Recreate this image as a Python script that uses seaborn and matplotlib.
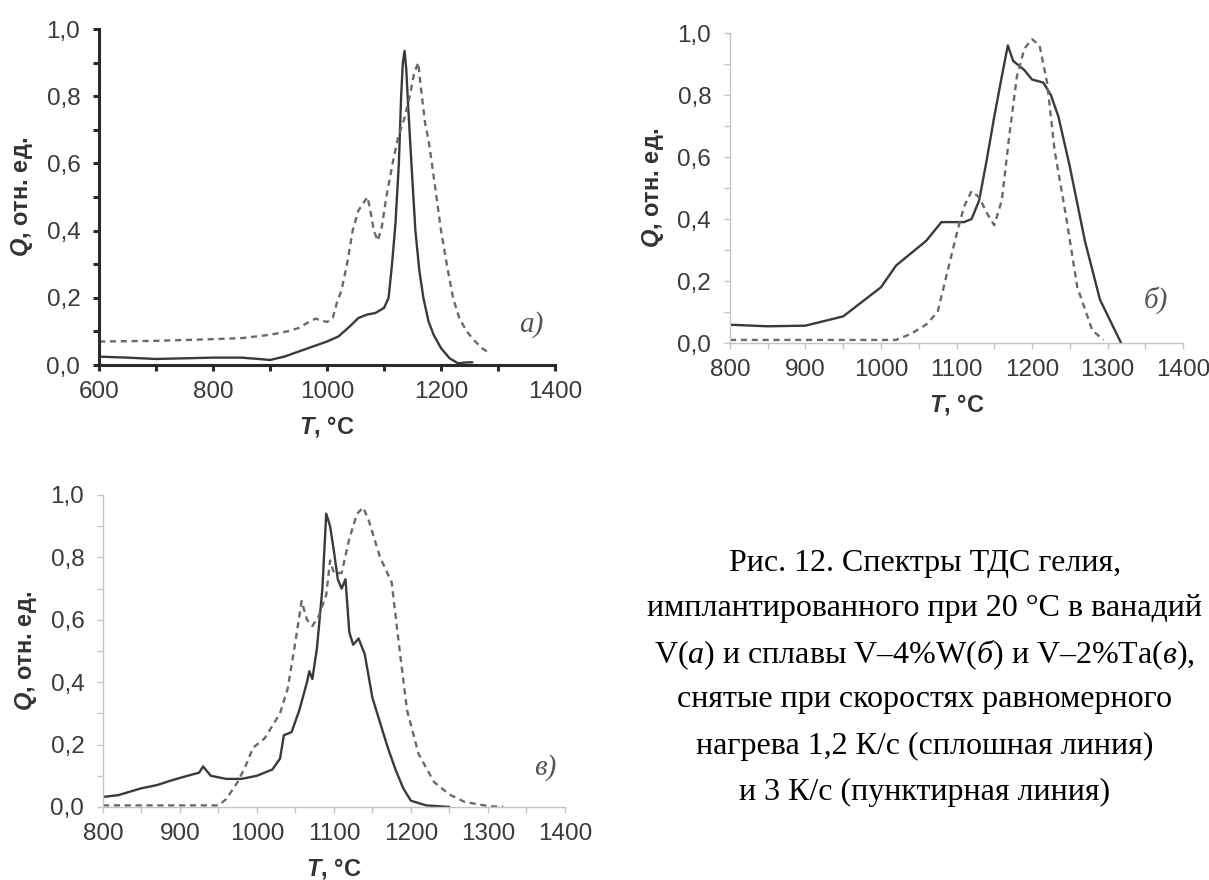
import numpy as np
import pandas as pd
import matplotlib
matplotlib.use("Agg")
import matplotlib.pyplot as plt
from matplotlib.ticker import MultipleLocator, FuncFormatter
import seaborn as sns

# ---- панель а) ванадий V ----
a_T_solid = [600, 650, 700, 750, 800, 850, 880, 900, 925, 950, 975, 1000, 1020, 1040, 1055, 1070,
             1085, 1100, 1108, 1114, 1120, 1126, 1130, 1133, 1136, 1139, 1142, 1148, 1155, 1162,
             1169, 1178, 1187, 1200, 1215, 1230, 1245, 1255]
a_Q_solid = [0.025, 0.022, 0.018, 0.02, 0.022, 0.022, 0.018, 0.015, 0.025, 0.04, 0.055, 0.07, 0.085,
             0.115, 0.14, 0.15, 0.155, 0.17, 0.2, 0.3, 0.42, 0.6, 0.8, 0.9, 0.935, 0.88, 0.78, 0.6,
             0.4, 0.28, 0.2, 0.13, 0.09, 0.05, 0.02, 0.005, 0.008, 0.008]
a_T_dash = [600, 700, 800, 850, 900, 930, 950, 970, 980, 990, 1000, 1010, 1018, 1025, 1035, 1045,
            1055, 1063, 1071, 1076, 1082, 1089, 1096, 1104, 1115, 1125, 1135, 1145, 1153, 1160,
            1165, 1172, 1178, 1184, 1192, 1200, 1210, 1221, 1232, 1245, 1260, 1272, 1285]
a_Q_dash = [0.07, 0.072, 0.077, 0.08, 0.09, 0.1, 0.11, 0.13, 0.138, 0.133, 0.128, 0.14, 0.19, 0.22,
            0.3, 0.4, 0.46, 0.48, 0.5, 0.46, 0.4, 0.37, 0.41, 0.5, 0.6, 0.68, 0.73, 0.8, 0.87, 0.9,
            0.82, 0.72, 0.67, 0.6, 0.5, 0.4, 0.3, 0.2, 0.14, 0.1, 0.07, 0.05, 0.035]

# ---- панель б) V-4%W ----
b_T_solid = [800, 850, 900, 950, 1000, 1020, 1040, 1060, 1080, 1100, 1110, 1120, 1130, 1140, 1150,
             1160, 1168, 1175, 1190, 1200, 1215, 1225, 1235, 1250, 1270, 1290, 1310, 1318]
b_Q_solid = [0.059, 0.054, 0.056, 0.086, 0.18, 0.25, 0.29, 0.33, 0.39, 0.39, 0.39, 0.40, 0.46, 0.59,
             0.73, 0.86, 0.96, 0.91, 0.88, 0.85, 0.84, 0.80, 0.73, 0.57, 0.33, 0.14, 0.04, 0.0]
b_T_dash = [800, 900, 1000, 1020, 1040, 1060, 1075, 1090, 1100, 1110, 1120, 1130, 1140, 1150, 1160,
            1170, 1180, 1190, 1200, 1210, 1220, 1230, 1245, 1260, 1280, 1295]
b_Q_dash = [0.01, 0.01, 0.01, 0.01, 0.03, 0.06, 0.1, 0.25, 0.35, 0.44, 0.49, 0.47, 0.42, 0.38, 0.46,
            0.67, 0.86, 0.95, 0.98, 0.96, 0.84, 0.62, 0.41, 0.18, 0.04, 0.01]

# ---- панель в) V-2%Ta ----
c_T_solid = [800, 820, 850, 870, 890, 910, 925, 930, 940, 960, 980, 1000, 1020, 1030, 1035, 1045,
             1055, 1065, 1068, 1072, 1078, 1085, 1090, 1095, 1100, 1105, 1110, 1115, 1120, 1125,
             1132, 1140, 1150, 1160, 1170, 1180, 1190, 1200, 1220, 1250]
c_Q_solid = [0.032, 0.038, 0.06, 0.07, 0.086, 0.1, 0.11, 0.13, 0.1, 0.09, 0.09, 0.1, 0.12, 0.155,
             0.23, 0.24, 0.31, 0.40, 0.435, 0.41, 0.51, 0.70, 0.94, 0.90, 0.82, 0.73, 0.70, 0.73,
             0.56, 0.52, 0.54, 0.49, 0.35, 0.27, 0.19, 0.12, 0.06, 0.02, 0.005, 0.0]
c_T_dash = [800, 950, 960, 975, 985, 995, 1010, 1030, 1040, 1050, 1058, 1065, 1072, 1080, 1090, 1095,
            1100, 1110, 1120, 1130, 1138, 1145, 1160, 1175, 1185, 1195, 1210, 1230, 1250, 1270,
            1300, 1320]
c_Q_dash = [0.005, 0.005, 0.025, 0.08, 0.13, 0.19, 0.22, 0.30, 0.38, 0.53, 0.66, 0.60, 0.58, 0.61,
            0.68, 0.79, 0.75, 0.75, 0.86, 0.94, 0.96, 0.92, 0.80, 0.72, 0.51, 0.31, 0.17, 0.08, 0.04,
            0.016, 0.003, 0.0]

caption = [
    "Рис. 12. Спектры ТДС гелия,",
    "имплантированного при 20 °C в ванадий",
    r"V$\mathit{(а)}$ и сплавы V–4%W($\mathit{б}$) и V–2%Ta($\mathit{в}$),",
    "снятые при скоростях равномерного",
    "нагрева 1,2 К/с (сплошная линия)",
    "и 3 К/с (пунктирная линия)",
]

sns.set_style("white")
plt.rcParams['font.family'] = ['Liberation Sans', 'DejaVu Sans']
plt.rcParams['mathtext.fontset'] = 'custom'
plt.rcParams['mathtext.rm'] = 'Liberation Serif'
plt.rcParams['mathtext.it'] = 'Liberation Serif:italic'
plt.rcParams['mathtext.bfit'] = 'Liberation Sans:italic:bold'

fig = plt.figure(figsize=(12.09, 8.8), dpi=100)


def comma(v, pos):
    return f"{v:.1f}".replace(".", ",")


def draw_panel(rect, ts, qs, td, qd, xlim, xmaj, xmin, letter, lxy, dark):
    ax = fig.add_axes(rect)
    sns.lineplot(x=ts, y=qs, ax=ax, color="#3a3a3a", linewidth=1.7)
    sns.lineplot(x=td, y=qd, ax=ax, color="#6a6a6a", linewidth=1.7, linestyle=(0, (2.6, 2.0)))
    ax.set_xlim(*xlim)
    ax.set_ylim(0, 1.0)
    ax.xaxis.set_major_locator(MultipleLocator(xmaj))
    ax.xaxis.set_minor_locator(MultipleLocator(xmin))
    ax.yaxis.set_major_locator(MultipleLocator(0.2))
    ax.yaxis.set_minor_locator(MultipleLocator(0.1))
    ax.yaxis.set_major_formatter(FuncFormatter(comma))
    for s in ["top", "right"]:
        ax.spines[s].set_visible(False)
    sc = "#2a2a2a" if dark else "#c4c4c4"
    sw = 2.2 if dark else 1.0
    for s in ["left", "bottom"]:
        ax.spines[s].set_color(sc)
        ax.spines[s].set_linewidth(sw)
    ax.tick_params(which="both", bottom=True, left=True, direction="out", color=sc,
                   width=sw, length=4, labelsize=17.5, labelcolor="#3a3a3a")
    ax.tick_params(axis="y", which="both", pad=9.5)
    ax.tick_params(axis="x", which="both", pad=7.5)
    ax.set_xlabel(r"$\mathbfit{T}$, °C", fontsize=17, fontweight="bold", color="#333333", labelpad=8)
    ax.set_ylabel(r"$\mathbfit{Q}$, отн. ед.", fontsize=17, fontweight="bold", color="#333333", labelpad=8)
    ax.text(lxy[0], lxy[1], letter, fontfamily="Liberation Serif", fontstyle="italic",
            fontsize=21, color="#555555", ha="center", va="center")
    return ax


draw_panel([0.0819, 0.5852, 0.3772, 0.3818], a_T_solid, a_Q_solid, a_T_dash, a_Q_dash,
           (600, 1400), 200, 100, "a)", (1358, 0.12), True)
draw_panel([0.6038, 0.6102, 0.3747, 0.3523], b_T_solid, b_Q_solid, b_T_dash, b_Q_dash,
           (800, 1400), 100, 50, "б)", (1364, 0.139), False)
draw_panel([0.0852, 0.083, 0.3820, 0.3545], c_T_solid, c_Q_solid, c_T_dash, c_Q_dash,
           (800, 1400), 100, 50, "в)", (1374, 0.125), False)

ys = [0.360, 0.308, 0.256, 0.205, 0.152, 0.100]
for line, y in zip(caption, ys):
    fig.text(0.765, y, line, ha="center", va="center", fontsize=23,
             family="Liberation Serif", color="black")

fig.savefig("out.png", dpi=100)
